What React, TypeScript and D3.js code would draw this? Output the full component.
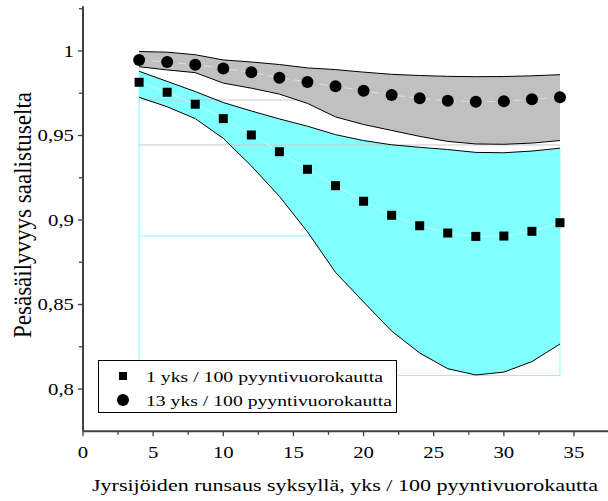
import React from "react";
import * as d3 from "d3";

// jyrsijätiheys (x) ja pesäsäilyvyys kahdella tiheydellä
const xVals = [4, 6, 8, 10, 12, 14, 16, 18, 20, 22, 24, 26, 28, 30, 32, 34];
const surv1 = [0.9815, 0.9756, 0.9685, 0.96, 0.9503, 0.9404, 0.93, 0.9203, 0.9111, 0.9028, 0.8966, 0.8923, 0.8903, 0.8905, 0.8933, 0.8984];
const surv13 = [0.9947, 0.9935, 0.9919, 0.9897, 0.9874, 0.9842, 0.9817, 0.9791, 0.9765, 0.974, 0.972, 0.9706, 0.97, 0.9702, 0.9714, 0.9726];
const band1Upper = [0.988, 0.982, 0.976, 0.9695, 0.9645, 0.9598, 0.9555, 0.9505, 0.947, 0.9445, 0.943, 0.9417, 0.94, 0.9398, 0.9408, 0.9425];
const band1Lower = [0.9726, 0.967, 0.96, 0.9483, 0.932, 0.914, 0.893, 0.869, 0.8515, 0.8343, 0.8213, 0.812, 0.8083, 0.81, 0.8162, 0.8266];
const band13Upper = [0.9997, 0.9993, 0.9978, 0.9947, 0.9935, 0.992, 0.99, 0.989, 0.9875, 0.9862, 0.9855, 0.985, 0.9848, 0.9849, 0.9853, 0.986];
const band13Lower = [0.9907, 0.9888, 0.9872, 0.981, 0.978, 0.9745, 0.969, 0.961, 0.9565, 0.953, 0.9495, 0.9465, 0.945, 0.9448, 0.9455, 0.947];

// jäänneviivat (piirto-ohjelman laatikot)
const cyanHLines = [0.8905, 0.808];
const cyanVLines = [[4, 0.99], [34, 0.943]];
const cyanBottom = 0.808;
const grayHLines = [0.971, 0.9444];

const xMajor = [0, 5, 10, 15, 20, 25, 30, 35];
const xMinor = [2.5, 7.5, 12.5, 17.5, 22.5, 27.5, 32.5];
const yMajor = [0.8, 0.85, 0.9, 0.95, 1];
const yTickLabels = ["0,8", "0,85", "0,9", "0,95", "1"];
const yMinor = [0.825, 0.875, 0.925, 0.975, 1.025];

const legendLabels = ["1 yks / 100 pyyntivuorokautta", "13 yks / 100 pyyntivuorokautta"];
const xTitle = "Jyrsijöiden runsaus syksyllä, yks / 100 pyyntivuorokautta";
const yTitle = "Pesäsäilyvyys saalistuselta";

const W = 608;
const H = 501;
const txt = { fontFamily: "Liberation Serif" };
const axisCol = "#404040";

export default function App() {
  const x = d3.scaleLinear().domain([0, 35]).range([83, 574]);
  const y = d3.scaleLinear().domain([0.8, 1]).range([389, 51]);
  const x0 = x(0);
  const y0 = y(0.775);

  const area = (lo: number[], hi: number[]) =>
    d3.area<number>().x((d) => x(d)).y0((d, i) => y(lo[i])).y1((d, i) => y(hi[i]))(xVals) || "";
  const line = (vals: number[]) =>
    d3.line<number>().x((d) => x(d)).y((d, i) => y(vals[i]))(xVals) || "";

  return (
    <svg width={W} height={H} style={{ position: "absolute", left: 0, top: 0, background: "#fff" }}>
      {cyanHLines.map((v, i) => (
        <line key={"ch" + i} x1={x(4)} x2={x(34)} y1={y(v)} y2={y(v)} stroke="#80ffff" strokeWidth={1} />
      ))}
      {cyanVLines.map(([xv, top], i) => (
        <line key={"cv" + i} x1={x(xv)} x2={x(xv)} y1={y(top)} y2={y(cyanBottom)} stroke="#80ffff" strokeWidth={1} />
      ))}

      <path d={area(band1Lower, band1Upper)} fill="#80ffff" />

      {grayHLines.map((v, i) => (
        <line key={"gh" + i} x1={x(4)} x2={x(34)} y1={y(v)} y2={y(v)} stroke="#c8c8c8" strokeWidth={1} />
      ))}

      <path d={area(band13Lower, band13Upper)} fill="#c0c0c0" />

      {[band1Upper, band1Lower, band13Upper, band13Lower].map((b, i) => (
        <path key={"o" + i} d={line(b)} fill="none" stroke="#000" strokeWidth={1} />
      ))}

      {/* haaleat yhdysviivat */}
      <path d={line(surv1)} fill="none" stroke="#fff" strokeOpacity={0.6} strokeWidth={0.8} />
      <path d={line(surv13)} fill="none" stroke="#fff" strokeOpacity={0.6} strokeWidth={0.8} strokeDasharray="8,5" />

      {xVals.map((xv, i) => (
        <rect key={"s" + i} x={x(xv) - 4.5} y={y(surv1[i]) - 4.5} width={9} height={9} fill="#000" />
      ))}
      {xVals.map((xv, i) => (
        <circle key={"c" + i} cx={x(xv)} cy={y(surv13[i])} r={6} fill="#000" />
      ))}

      {/* akselit */}
      <line x1={x0} x2={W} y1={y0} y2={y0} stroke={axisCol} strokeWidth={2} />
      <line x1={x0} x2={x0} y1={y0} y2={y(1.0265)} stroke={axisCol} strokeWidth={2} />
      {xMajor.map((v) => (
        <g key={"xm" + v}>
          <line x1={x(v)} x2={x(v)} y1={y0} y2={y0 + 5} stroke={axisCol} strokeWidth={1.3} />
          <text style={txt} transform={`translate(${x(v)},${y0 + 27}) scale(1.3,1)`} textAnchor="middle" fontSize={16} fill="#000">
            {v}
          </text>
        </g>
      ))}
      {xMinor.map((v) => (
        <line key={"xn" + v} x1={x(v)} x2={x(v)} y1={y0} y2={y0 + 3.5} stroke={axisCol} strokeWidth={1.3} />
      ))}
      {yMajor.map((v, i) => (
        <g key={"ym" + v}>
          <line x1={x0 - 5} x2={x0} y1={y(v)} y2={y(v)} stroke={axisCol} strokeWidth={1.3} />
          <text style={txt} transform={`translate(${x0 - 9},${y(v) + 5.5}) scale(1.3,1)`} textAnchor="end" fontSize={16} fill="#000">
            {yTickLabels[i]}
          </text>
        </g>
      ))}
      {yMinor.map((v) => (
        <line key={"yn" + v} x1={x0 - 4} x2={x0} y1={y(v)} y2={y(v)} stroke={axisCol} strokeWidth={1.3} />
      ))}

      <text style={txt} x={92} y={491} fontSize={17} textLength={506} lengthAdjust="spacingAndGlyphs" fill="#000">
        {xTitle}
      </text>
      <text
        style={txt}
        transform="translate(31,338) scale(1.3,1) rotate(-90)"
        fontSize={19}
        textLength={246}
        lengthAdjust="spacingAndGlyphs"
        fill="#000"
      >
        {yTitle}
      </text>

      {/* selite */}
      <rect x={98.5} y={360.5} width={298} height={52} fill="#fff" stroke="#000" strokeWidth={1} />
      <rect x={119} y={372} width={8} height={8} fill="#000" />
      <circle cx={123} cy={400} r={6} fill="#000" />
      <text style={txt} x={146} y={382} fontSize={15.5} textLength={237} lengthAdjust="spacingAndGlyphs" fill="#000">
        {legendLabels[0]}
      </text>
      <text style={txt} x={146} y={406} fontSize={15.5} textLength={246} lengthAdjust="spacingAndGlyphs" fill="#000">
        {legendLabels[1]}
      </text>
    </svg>
  );
}
